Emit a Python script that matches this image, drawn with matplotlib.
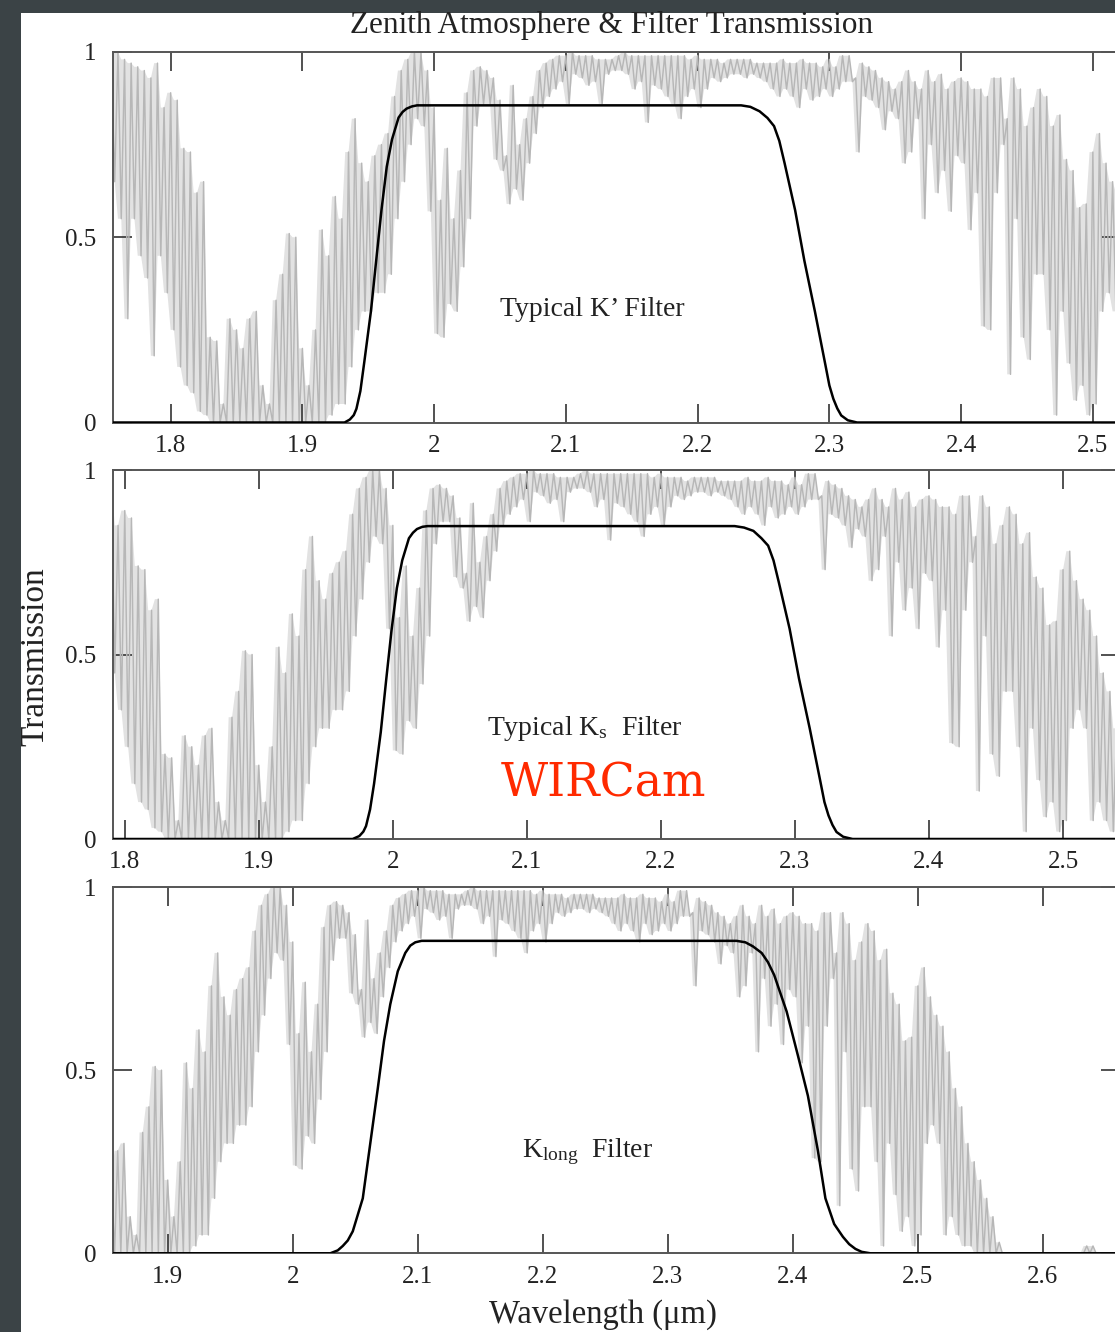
import numpy as np
import matplotlib
matplotlib.use('Agg')
import matplotlib.pyplot as plt
from matplotlib.patches import Rectangle

# ---------------- data ----------------
# zenith atmospheric transmission: upper / lower envelope per 0.005 um bin, starting at 1.755 um
atm_start = 1.755
atm_step = 0.005
atm_hi = [0.98, 1.00, 0.98, 0.97, 0.96, 0.95, 0.93, 0.97, 0.85, 0.89,
          0.87, 0.74, 0.73, 0.62, 0.65, 0.23, 0.22, 0.05, 0.28, 0.25,
          0.20, 0.28, 0.30, 0.10, 0.05, 0.33, 0.40, 0.51, 0.50, 0.20,
          0.10, 0.25, 0.52, 0.45, 0.61, 0.55, 0.73, 0.82, 0.70, 0.65,
          0.72, 0.75, 0.78, 0.88, 0.95, 0.98, 1.00, 1.00, 0.95, 0.85,
          0.60, 0.74, 0.55, 0.68, 0.89, 0.95, 0.96, 0.95, 0.93, 0.87,
          0.72, 0.91, 0.75, 0.82, 0.88, 0.95, 0.97, 0.98, 0.99, 0.99,
          1.00, 0.99, 0.99, 0.99, 0.98, 0.98, 0.98, 0.99, 1.00, 0.99,
          0.99, 0.99, 0.99, 0.99, 0.99, 0.99, 0.99, 0.99, 0.98, 0.99,
          0.98, 0.98, 0.98, 0.97, 0.98, 0.98, 0.98, 0.98, 0.97, 0.97,
          0.97, 0.97, 0.98, 0.97, 0.97, 0.98, 0.97, 0.97, 0.96, 0.98,
          0.96, 0.99, 0.99, 0.93, 0.97, 0.96, 0.95, 0.93, 0.92, 0.90,
          0.92, 0.95, 0.92, 0.90, 0.95, 0.92, 0.94, 0.90, 0.92, 0.93,
          0.92, 0.90, 0.90, 0.88, 0.93, 0.93, 0.82, 0.93, 0.90, 0.80,
          0.85, 0.90, 0.88, 0.80, 0.83, 0.71, 0.68, 0.58, 0.59, 0.73,
          0.78, 0.70, 0.65, 0.62, 0.55, 0.45, 0.40, 0.30, 0.25, 0.20,
          0.15, 0.10, 0.03, 0.00, 0.00, 0.00, 0.00, 0.00, 0.00, 0.00,
          0.00, 0.00, 0.00, 0.00, 0.00, 0.00, 0.02, 0.02, 0.00, 0.00,
          0.00, 0.00]
atm_lo = [0.65, 0.55, 0.28, 0.55, 0.45, 0.39, 0.18, 0.45, 0.35, 0.25,
          0.15, 0.10, 0.08, 0.03, 0.02, 0.00, 0.00, 0.00, 0.00, 0.00,
          0.00, 0.00, 0.00, 0.00, 0.00, 0.00, 0.00, 0.00, 0.00, 0.00,
          0.00, 0.00, 0.00, 0.02, 0.05, 0.05, 0.15, 0.25, 0.30, 0.30,
          0.35, 0.35, 0.40, 0.55, 0.65, 0.75, 0.82, 0.80, 0.57, 0.24,
          0.23, 0.32, 0.30, 0.42, 0.55, 0.80, 0.86, 0.86, 0.71, 0.68,
          0.59, 0.63, 0.60, 0.70, 0.78, 0.85, 0.88, 0.90, 0.92, 0.86,
          0.94, 0.93, 0.91, 0.92, 0.86, 0.94, 0.95, 0.95, 0.94, 0.90,
          0.92, 0.81, 0.91, 0.90, 0.88, 0.86, 0.82, 0.88, 0.90, 0.85,
          0.90, 0.93, 0.92, 0.93, 0.94, 0.94, 0.93, 0.94, 0.93, 0.92,
          0.90, 0.88, 0.90, 0.88, 0.85, 0.90, 0.87, 0.88, 0.90, 0.88,
          0.90, 0.92, 0.92, 0.73, 0.88, 0.87, 0.85, 0.79, 0.84, 0.82,
          0.70, 0.73, 0.82, 0.55, 0.75, 0.62, 0.68, 0.57, 0.72, 0.70,
          0.52, 0.62, 0.26, 0.25, 0.62, 0.75, 0.13, 0.55, 0.23, 0.17,
          0.40, 0.40, 0.25, 0.02, 0.30, 0.16, 0.06, 0.10, 0.02, 0.05,
          0.30, 0.35, 0.30, 0.05, 0.10, 0.05, 0.02, 0.02, 0.00, 0.00,
          0.00, 0.00, 0.00, 0.00, 0.00, 0.00, 0.00, 0.00, 0.00, 0.00,
          0.00, 0.00, 0.00, 0.00, 0.00, 0.00, 0.00, 0.00, 0.00, 0.00,
          0.00, 0.00]

# filter curves (wavelength um, transmission)
kp_wl = [1.70, 1.932, 1.936, 1.939, 1.941, 1.944, 1.947, 1.952, 1.956, 1.960, 1.964, 1.968,
         1.973, 1.976, 1.979, 1.983, 1.987,
         2.233, 2.240, 2.247, 2.253, 2.258, 2.262, 2.266, 2.274, 2.281, 2.289, 2.297,
         2.300, 2.303, 2.306, 2.309, 2.314, 2.321, 2.70]
kp_tr = [0, 0, 0.008, 0.02, 0.037, 0.085, 0.164, 0.30, 0.437, 0.573, 0.69, 0.764,
         0.823, 0.838, 0.847, 0.853, 0.856,
         0.856, 0.852, 0.84, 0.822, 0.80, 0.76, 0.70, 0.573, 0.437, 0.30, 0.155,
         0.10, 0.064, 0.038, 0.019, 0.006, 0, 0]
ks_wl = [1.70, 1.970, 1.975, 1.978, 1.980, 1.983, 1.986, 1.991, 1.995, 1.999, 2.003, 2.007,
         2.012, 2.015, 2.018, 2.022, 2.026,
         2.255, 2.262, 2.269, 2.275, 2.280, 2.284, 2.288, 2.296, 2.303, 2.311, 2.319,
         2.322, 2.325, 2.328, 2.331, 2.336, 2.343, 2.70]
ks_tr = [0, 0, 0.008, 0.02, 0.035, 0.08, 0.15, 0.29, 0.43, 0.565, 0.68, 0.755,
         0.815, 0.830, 0.840, 0.846, 0.848,
         0.848, 0.844, 0.835, 0.815, 0.795, 0.755, 0.695, 0.57, 0.435, 0.30, 0.155,
         0.10, 0.064, 0.038, 0.019, 0.006, 0, 0]
kl_wl = [1.80, 2.030, 2.036, 2.040, 2.044, 2.048, 2.056, 2.062, 2.068, 2.073, 2.078, 2.084,
         2.090, 2.094, 2.098, 2.103,
         2.355, 2.362, 2.368, 2.375, 2.380, 2.385, 2.395, 2.404, 2.412, 2.420, 2.426,
         2.433, 2.440, 2.445, 2.450, 2.455, 2.462, 2.70]
kl_tr = [0, 0, 0.008, 0.02, 0.035, 0.06, 0.15, 0.30, 0.45, 0.58, 0.68, 0.77,
         0.82, 0.840, 0.849, 0.853,
         0.853, 0.849, 0.838, 0.82, 0.795, 0.76, 0.66, 0.54, 0.43, 0.28, 0.15,
         0.08, 0.045, 0.025, 0.012, 0.004, 0, 0]

panel_xlim = [(1.756, 2.5206), (1.791, 2.5425), (1.856, 2.6616)]
panel_xticks = [[1.8, 1.9, 2.0, 2.1, 2.2, 2.3, 2.4, 2.5],
                [1.8, 1.9, 2.0, 2.1, 2.2, 2.3, 2.4, 2.5],
                [1.9, 2.0, 2.1, 2.2, 2.3, 2.4, 2.5, 2.6]]
panel_xticklabels = [['1.8', '1.9', '2', '2.1', '2.2', '2.3', '2.4', '2.5'],
                     ['1.8', '1.9', '2', '2.1', '2.2', '2.3', '2.4', '2.5'],
                     ['1.9', '2', '2.1', '2.2', '2.3', '2.4', '2.5', '2.6']]
ytick_vals = [0, 0.5, 1]
ytick_labels = ['0', '0.5', '1']
filter_labels = ["Typical K\u2019 Filter", r"Typical K$_{\mathrm{s}}$  Filter", r"K$_{\mathrm{long}}$  Filter"]
filter_label_pos = [(2.1197, 0.305), (2.143, 0.30), (2.236, 0.277)]

# ---------------- figure ----------------
plt.rcParams['font.family'] = ['Liberation Serif', 'DejaVu Serif']
plt.rcParams['mathtext.fontset'] = 'custom'
plt.rcParams['mathtext.rm'] = 'Liberation Serif'
plt.rcParams['mathtext.it'] = 'Liberation Serif:italic'

W, H = 1115, 1332
fig = plt.figure(figsize=(W / 100, H / 100), dpi=100)
fig.patch.set_facecolor('#3b4346')
bg = Rectangle((21 / W, 0), 1 - 21 / W, 1 - 13 / H, transform=fig.transFigure,
               facecolor='white', edgecolor='none', zorder=-10)
fig.patches.append(bg)

ax_px = [(52, 422.5), (470, 839), (887, 1253.3)]
left_px, right_px = 112.7, 1120

# spectrum drawn as a zig-zag running between upper and lower envelope of each bin
n = len(atm_hi)
wl = atm_start + atm_step * np.arange(n)
zx = np.empty(2 * n)
zy = np.empty(2 * n)
zx[0::2] = wl
zx[1::2] = wl + atm_step / 2
zy[0::2] = atm_hi
zy[1::2] = atm_lo
zy_next = np.r_[zy[1:], zy[-1]]

filters = [(kp_wl, kp_tr), (ks_wl, ks_tr), (kl_wl, kl_tr)]
axes = []
for i, (top, bot) in enumerate(ax_px):
    ax = fig.add_axes([left_px / W, 1 - bot / H, (right_px - left_px) / W, (bot - top) / H])
    ax.set_zorder(5)
    ax.patch.set_alpha(0)
    ax.fill_between(zx, np.minimum(zy, zy_next), np.maximum(zy, zy_next),
                    color='#e2e2e2', lw=0, zorder=1)
    ax.plot(zx, zy, color='#b7b7b7', lw=1.05, zorder=2)
    fw, ft = filters[i]
    ax.plot(fw, ft, color='black', lw=1.8, zorder=3)
    ax.set_xlim(*panel_xlim[i])
    ax.set_ylim(0, 1.0)
    ax.set_xticks(panel_xticks[i])
    ax.set_xticklabels(panel_xticklabels[i])
    ax.set_yticks(ytick_vals)
    ax.set_yticklabels(ytick_labels)
    ax.tick_params(direction='in', length=14, width=1.2, color='#333333',
                   top=True, right=True, labelsize=18, labelcolor='#222222')
    ax.tick_params(axis='x', pad=9)
    ax.tick_params(axis='y', pad=12)
    for s in ax.spines.values():
        s.set_color('#555555')
        s.set_linewidth(1.4)
    ax.text(*filter_label_pos[i], filter_labels[i], fontsize=20, color='#222222',
            ha='center', va='center', zorder=4)
    axes.append(ax)

axes[1].text(2.157, 0.15, 'WIRCam', fontsize=33, color='#ff2a00', ha='center', va='center',
             family=['DejaVu Serif'], zorder=4)

fig.text(612 / W, 1 - 25 / H, 'Zenith Atmosphere & Filter Transmission', fontsize=22.5,
         color='#222222', ha='center', va='center')
fig.text(35 / W, 1 - 657 / H, 'Transmission', fontsize=24, rotation=90, color='#222222',
         ha='center', va='center')
fig.text(603 / W, 1 - 1315 / H, 'Wavelength (\u03bcm)', fontsize=23.5, color='#222222',
         ha='center', va='center')

fig.savefig('out.png', dpi=100, facecolor=fig.get_facecolor())
